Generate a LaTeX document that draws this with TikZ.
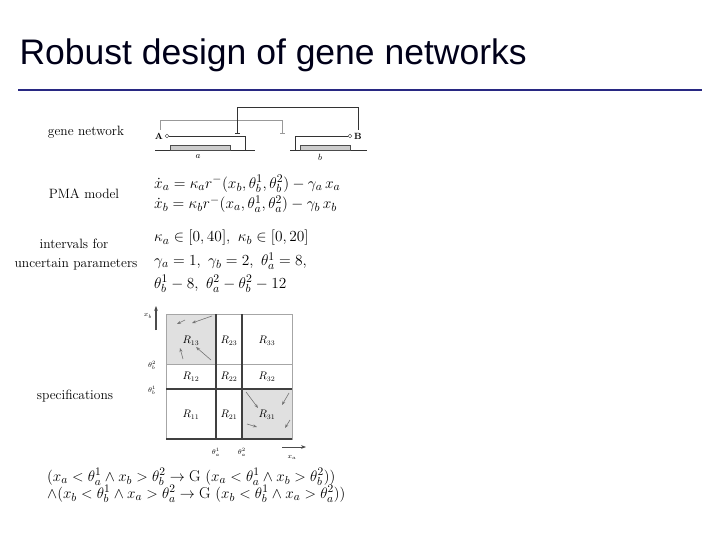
\documentclass[tikz,border=0pt]{standalone}
\usepackage{fontspec}
\newfontfamily\titlefont{Liberation Sans}
\usetikzlibrary{arrows.meta}
\newcommand{\myeq}[1]{\scalebox{1.07}{#1}}
\newcommand{\myspec}[1]{\scalebox{1.05}{#1}}
\begin{document}
\begin{tikzpicture}[x=1pt,y=-1pt,
  lbl/.style={font=\fontsize{13.5}{14}\selectfont,anchor=center},
  eq/.style={font=\fontsize{15}{16}\selectfont,anchor=west,inner sep=0},
  thin/.style={draw=black!35,line width=0.6},
  thick/.style={draw=black!75,line width=1.1},
  fl/.style={-{Stealth[length=4pt]},draw=black!55,line width=0.6}]
\useasboundingbox[fill=white] (0,0) rectangle (720,540);
\node[anchor=west,font=\titlefont\fontsize{35.5}{38}\selectfont,text=black!90!blue] (title) at (16,55) {Robust design of gene networks};
\draw[line width=2.5,draw={rgb,255:red,40;green,40;blue,130}] (18,90) -- (702,90);
% labels
\node[lbl] (l1) at (86,132) {gene network};
\node[lbl] (l2) at (84,194) {PMA model};
\node[lbl] (l3) at (74,244) {intervals for};
\node[lbl] (l4) at (76,264) {uncertain parameters};
\node[lbl] (l5) at (75,396) {specifications};
% gene network
\node[font=\bfseries\fontsize{9}{9}\selectfont,inner sep=0] (A) at (159,136) {A};
\node[font=\bfseries\fontsize{9}{9}\selectfont,inner sep=0] (B) at (358,136) {B};
\draw[black!80] (155,150) -- (255,150);
\draw[black!80] (290,150) -- (367,150);
\draw[fill=black!20,draw=black!70] (170,145) rectangle (230,150);
\draw[fill=black!20,draw=black!70] (300,145) rectangle (350,150);
\draw[black!80,-{Circle[open,length=4pt]}] (245,150) -- (245,136) -- (165,136);
\draw[black!80,-{Circle[open,length=4pt]}] (295,150) -- (295,136) -- (352,136);
\draw[black!40,-{Bar[width=5pt]}] (160,130) -- (160,120) -- (282,120) -- (282,133);
\draw[black!80,-{Bar[width=5pt]}] (358,130) -- (358,107) -- (237,107) -- (237,133);
\node[font=\fontsize{9}{9}\selectfont] (a) at (198,157) {$a$};
\node[font=\fontsize{9}{9}\selectfont] (b) at (320,157) {$b$};
% equations
\node[eq] (e1) at (154,184) {\myeq{$\dot x_a=\kappa_a r^-(x_b,\theta_b^1,\theta_b^2)-\gamma_a\,x_a$}};
\node[eq] (e2) at (154,204) {\myeq{$\dot x_b=\kappa_b r^-(x_a,\theta_a^1,\theta_a^2)-\gamma_b\,x_b$}};
\node[eq] (e3) at (154,238) {\myeq{$\kappa_a\in[0,40],\ \kappa_b\in[0,20]$}};
\node[eq] (e4) at (154,261) {\myeq{$\gamma_a=1,\ \gamma_b=2,\ \theta_a^1=8,$}};
\node[eq] (e5) at (154,284) {\myeq{$\theta_b^1-8,\ \theta_a^2-\theta_b^2-12$}};
% state grid
\fill[black!12] (166,314) rectangle (216,364);
\fill[black!12] (242,389) rectangle (292,439);
\draw[thin] (166,314) rectangle (292,439);
\draw[thin] (166,364) -- (292,364);
\draw[thick] (216,314) -- (216,439);
\draw[thick] (242,314) -- (242,439);
\draw[thick] (166,389) -- (292,389);
\draw[thick] (166,439) -- (292,439);
\foreach \n/\x/\y in {R13/191/341,R23/229/341,R33/267/341,R12/191/377,R22/229/377,R32/267/377,R11/191/415,R21/229/415,R31/267/415}{
  \node[font=\fontsize{10.5}{10}\selectfont] (\n) at (\x,\y) {};}
\node[font=\fontsize{10.5}{10}\selectfont] at (R13) {$R_{13}$};
\node[font=\fontsize{10.5}{10}\selectfont] at (R23) {$R_{23}$};
\node[font=\fontsize{10.5}{10}\selectfont] at (R33) {$R_{33}$};
\node[font=\fontsize{10.5}{10}\selectfont] at (R12) {$R_{12}$};
\node[font=\fontsize{10.5}{10}\selectfont] at (R22) {$R_{22}$};
\node[font=\fontsize{10.5}{10}\selectfont] at (R32) {$R_{32}$};
\node[font=\fontsize{10.5}{10}\selectfont] at (R11) {$R_{11}$};
\node[font=\fontsize{10.5}{10}\selectfont] at (R21) {$R_{21}$};
\node[font=\fontsize{10.5}{10}\selectfont] at (R31) {$R_{31}$};
% flow arrows
\draw[fl] (185,320) -- (177,324);
\draw[fl] (212,316) -- (192,323);
\draw[fl] (211,360) -- (196,347);
\draw[fl] (183,359) -- (180,348);
\draw[fl] (246,392) -- (258,408);
\draw[fl] (289,393) -- (282,405);
\draw[fl] (290,420) -- (285,428);
\draw[fl] (247,424) -- (257,427);
% axes
\draw[-{Stealth[length=5pt]},line width=1.2,black!70] (156,330) -- (156,306);
\draw[-{Stealth[length=5pt]},line width=1,black!70] (282,447) -- (306,447);
\node[font=\fontsize{7}{7}\selectfont] (xb) at (148,316) {$x_b$};
\node[font=\fontsize{7}{7}\selectfont] (tb2) at (152,365) {$\theta_b^2$};
\node[font=\fontsize{7}{7}\selectfont] (tb1) at (152,390) {$\theta_b^1$};
\node[font=\fontsize{7}{7}\selectfont] (ta1) at (216,452) {$\theta_a^1$};
\node[font=\fontsize{7}{7}\selectfont] (ta2) at (242,452) {$\theta_a^2$};
\node[font=\fontsize{7}{7}\selectfont] (xa) at (292,457) {$x_a$};
% specifications
\node[eq] (s1) at (47,477) {\myspec{$(x_a<\theta_a^1\wedge x_b>\theta_b^2\rightarrow \mathrm{G}\ (x_a<\theta_a^1\wedge x_b>\theta_b^2))$}};
\node[eq] (s2) at (47,494) {\myspec{$\wedge(x_b<\theta_b^1\wedge x_a>\theta_a^2\rightarrow \mathrm{G}\ (x_b<\theta_b^1\wedge x_a>\theta_a^2))$}};
\end{tikzpicture}
\end{document}
